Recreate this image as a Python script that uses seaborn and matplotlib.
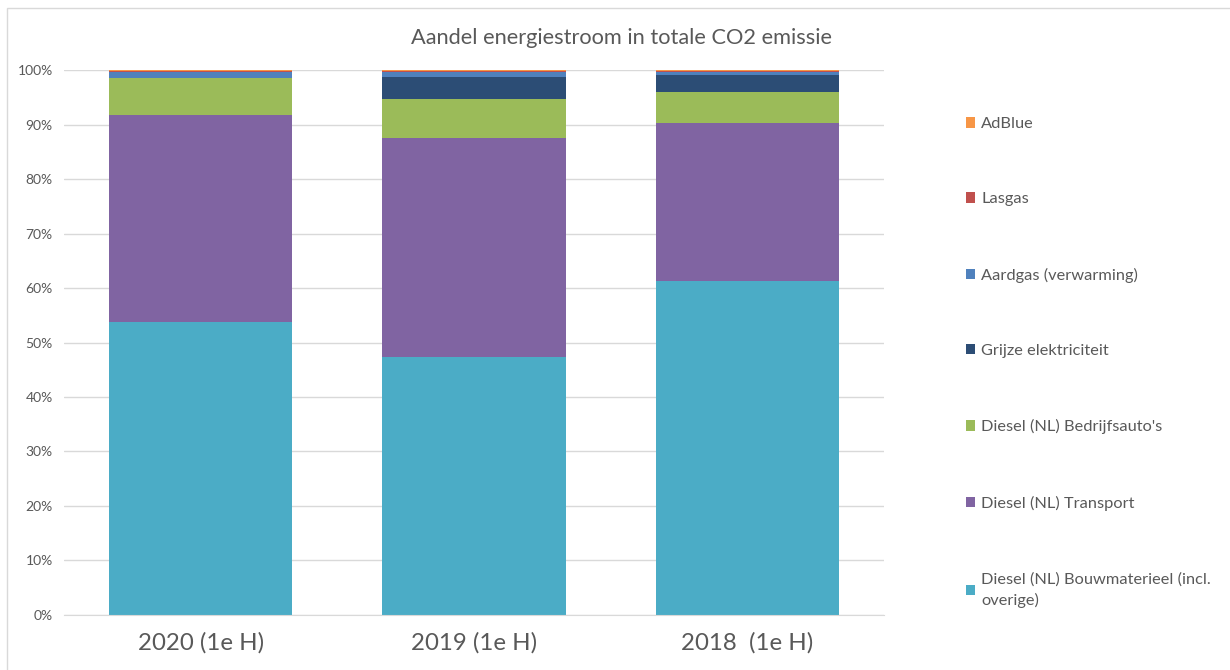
import pandas as pd
import numpy as np
import seaborn as sns
import matplotlib.pyplot as plt
from matplotlib.patches import Patch, Rectangle

sns.set_style("white")
plt.rcParams['font.family'] = ['Lato', 'DejaVu Sans']

# gegevens (aandeel in %)
perioden = ['2020 (1e H)', '2019 (1e H)', '2018  (1e H)']
bouwmaterieel = [53.8, 47.3, 61.3]
transport = [37.9, 40.2, 28.9]
bedrijfsautos = [6.9, 7.2, 5.7]
grijze_elek = [0.0, 4.0, 3.2]
aardgas = [1.1, 1.0, 0.6]
lasgas = [0.05, 0.05, 0.05]
adblue = [0.25, 0.25, 0.25]

reeksen = ['Diesel (NL) Bouwmaterieel (incl.\noverige)', 'Diesel (NL) Transport',
           "Diesel (NL) Bedrijfsauto's", 'Grijze elektriciteit',
           'Aardgas (verwarming)', 'Lasgas', 'AdBlue']
kleuren = ['#4BACC6', '#8064A2', '#9BBB59', '#2C4D75', '#4F81BD', '#C0504D', '#F79646']

df = pd.DataFrame({'periode': perioden})
waarden = [bouwmaterieel, transport, bedrijfsautos, grijze_elek, aardgas, lasgas, adblue]
cum = np.cumsum(np.array(waarden), axis=0)

fig = plt.figure(figsize=(12.3, 6.7), dpi=100)
ax = fig.add_axes([0.052, 0.0821, 0.6667, 0.8134])

# gestapeld: van boven naar beneden tekenen met cumulatieve sommen
for i in range(len(reeksen) - 1, -1, -1):
    df['y'] = cum[i]
    sns.barplot(x='periode', y='y', data=df, color=kleuren[i], width=0.67,
                saturation=1, linewidth=0, ax=ax, zorder=2)

ax.set_ylim(0, 100)
ax.set_xlim(-0.5, 2.5)
ax.set_yticks(np.arange(0, 101, 10))
ax.set_yticklabels([f'{v}%' for v in range(0, 101, 10)])
ax.set_xlabel('')
ax.set_ylabel('')
ax.yaxis.grid(True, color='#D9D9D9', linewidth=1)
ax.set_axisbelow(True)
for s in ['left', 'right', 'top']:
    ax.spines[s].set_visible(False)
ax.spines['bottom'].set_color('#D9D9D9')
ax.tick_params(axis='y', length=0, pad=8, labelsize=10, labelcolor='#595959')
ax.tick_params(axis='x', length=0, pad=12, labelsize=17.3, labelcolor='#595959')

fig.text(0.505, 0.943, 'Aandel energiestroom in totale CO2 emissie', ha='center', va='center',
         fontsize=15.7, color='#595959')

handles = [Patch(facecolor=kleuren[i], edgecolor='none', label=reeksen[i])
           for i in range(len(reeksen) - 1, -1, -1)]
leg = fig.legend(handles=handles, loc='upper left', bbox_to_anchor=(0.7797, 0.835), frameon=False,
                 fontsize=11.8, labelcolor='#595959', handlelength=0.6, handleheight=0.6,
                 handletextpad=0.35, labelspacing=3.74, borderaxespad=0)
for t in leg.get_texts():
    t.set_linespacing(1.55)

fig.patches.append(Rectangle((7 / 1230, -0.05), 1.1, 1 - 8 / 670 + 0.05, transform=fig.transFigure,
                             fill=False, edgecolor='#D9D9D9', linewidth=1))

plt.savefig('out.png')
